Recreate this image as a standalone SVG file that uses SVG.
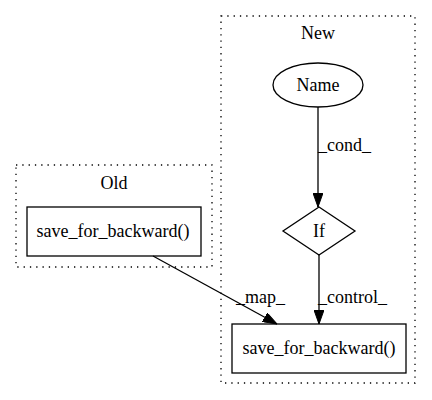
<svg xmlns="http://www.w3.org/2000/svg" width="432" height="400" viewBox="0 0 432 400">
<style>
text{font-family:"Liberation Serif","Times New Roman",serif;font-size:18px;fill:#000}
.c{text-anchor:middle}
.cl{fill:none;stroke:#000;stroke-width:1.3;stroke-dasharray:1.3,5}
.n{fill:none;stroke:#000;stroke-width:1.3}
.e{fill:none;stroke:#000;stroke-width:1.3}
</style>
<defs>
<marker id="ah" viewBox="0 0 14 10" refX="14" refY="5" markerWidth="14" markerHeight="10" markerUnits="userSpaceOnUse" orient="auto">
<path d="M0,0 L14,5 L0,10 Z" fill="#000" stroke="#000"/>
</marker>
</defs>
<rect width="432" height="400" fill="#fff"/>
<g id="cluster_old">
<rect class="cl" x="16" y="165" width="196" height="102"/>
<text class="c" x="114" y="189">Old</text>
</g>
<g id="cluster_new">
<rect class="cl" x="221" y="16" width="194" height="367"/>
<text class="c" x="318" y="39">New</text>
</g>
<g id="old_save">
<rect class="n" x="27" y="207" width="174" height="49"/>
<text class="c" x="113" y="237">save_for_backward()</text>
</g>
<g id="name">
<ellipse class="n" cx="318" cy="85" rx="45" ry="22"/>
<text class="c" x="318" y="91">Name</text>
</g>
<g id="if">
<polygon class="n" points="319,207 355,231 319,255 283,231"/>
<text class="c" x="319" y="237">If</text>
</g>
<g id="new_save">
<rect class="n" x="232" y="324" width="174" height="49"/>
<text class="c" x="319" y="354">save_for_backward()</text>
</g>
<g id="edges">
<path class="e" d="M318,107 L318,207" marker-end="url(#ah)"/>
<text x="318" y="151">_cond_</text>
<path class="e" d="M319,255 L319,324" marker-end="url(#ah)"/>
<text x="318" y="303">_control_</text>
<path class="e" d="M153,256 L277,324" marker-end="url(#ah)"/>
<text x="236" y="303">_map_</text>
</g>
</svg>
